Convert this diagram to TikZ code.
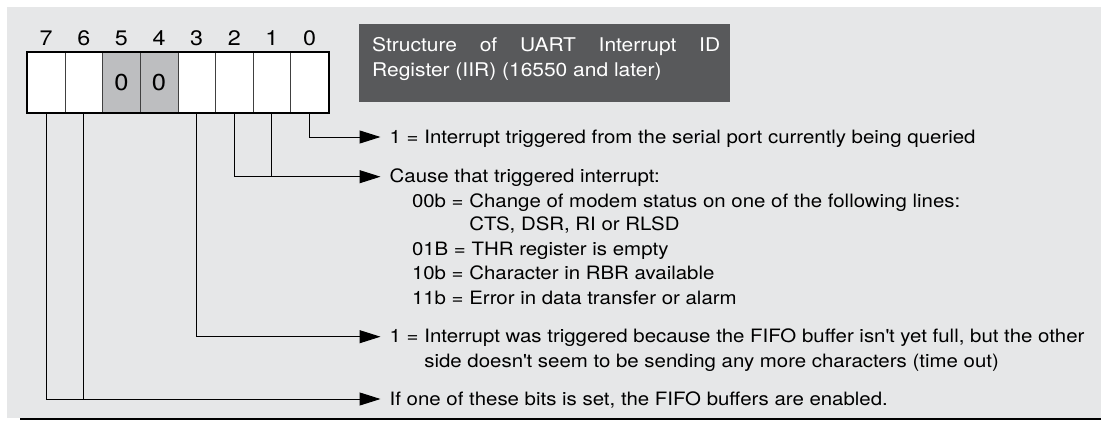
\documentclass[tikz,border=0pt]{standalone}
\usepackage{fontspec}
\setmainfont{TeX Gyre Heros}[FakeStretch=1.11]
\usetikzlibrary{arrows.meta}
\definecolor{bg}{HTML}{E6E7E8}
\definecolor{cellgray}{HTML}{BDBEC0}
\definecolor{titlebg}{HTML}{58595B}
\begin{document}
\begin{tikzpicture}[x=1pt,y=-1pt,
  cell/.style={draw=black!75, line width=0.8pt, minimum width=37.625pt, minimum height=60pt,
    inner sep=0pt, anchor=north west, font=\fontsize{23}{26}\selectfont},
  bitnum/.style={anchor=base, inner sep=0pt, font=\fontsize{21}{24}\selectfont},
  desc/.style={anchor=base west, inner sep=0pt, font=\fontsize{18.4}{21}\selectfont},
  titletext/.style={anchor=base west, inner sep=0pt, text=white, font=\fontsize{18.9}{22}\selectfont},
  wire/.style={line width=1pt},
  conn/.style={wire, -{Triangle[length=21pt,width=13pt]}}]

\useasboundingbox (0,0) rectangle (1101,421);
\fill[bg] (7,7) rectangle (1101,418);
\draw[line width=2pt] (20,419) -- (1101,419);

% register cells
\node[cell, fill=white]    (c7) at (27,52) {};
\node[cell, fill=white]    (c6) at (64.625,52) {};
\node[cell, fill=cellgray] (c5) at (102.25,52) {0};
\node[cell, fill=cellgray] (c4) at (139.875,52) {0};
\node[cell, fill=white]    (c3) at (177.5,52) {};
\node[cell, fill=white]    (c2) at (215.125,52) {};
\node[cell, fill=white]    (c1) at (252.75,52) {};
\node[cell, fill=white]    (c0) at (290.375,52) {};
\draw[line width=1.5pt] (c7.north west) rectangle (c0.south east);

% bit numbers
\node[bitnum] (n7) at (c7.north |- 0,45) {7};
\node[bitnum] (n6) at (c6.north |- 0,45) {6};
\node[bitnum] (n5) at (c5.north |- 0,45) {5};
\node[bitnum] (n4) at (c4.north |- 0,45) {4};
\node[bitnum] (n3) at (c3.north |- 0,45) {3};
\node[bitnum] (n2) at (c2.north |- 0,45) {2};
\node[bitnum] (n1) at (c1.north |- 0,45) {1};
\node[bitnum] (n0) at (c0.north |- 0,45) {0};

% title box
\node[fill=titlebg, minimum width=371pt, minimum height=78pt, anchor=north west, inner sep=0pt] (title) at (359,24) {};
\node[titletext] (tl1) at (372,51) {\makebox[348pt][s]{Structure of UART Interrupt ID}};
\node[titletext] (tl2) at (372,76) {Register (IIR) (16550 and later)};

% descriptions
\node[desc] (t0) at (389.5,143.3) {1 = Interrupt triggered from the serial port currently being queried};
\node[desc] (t1) at (389.5,182.5) {Cause that triggered interrupt:};
\node[desc] (t1a) at (411.8,207) {00b = Change of modem status on one of the following lines:};
\node[desc] (t1b) at (411.8,230.5) {\hphantom{00b = }CTS, DSR, RI or RLSD};
\node[desc] (t1c) at (411.8,255.2) {01B = THR register is empty};
\node[desc] (t1d) at (411.8,279.8) {10b = Character in RBR available};
\node[desc] (t1e) at (411.8,304.3) {11b = Error in data transfer or alarm};
\node[desc] (t3) at (389.5,342.7) {1 = Interrupt was triggered because the FIFO buffer isn\textquotesingle t yet full, but the other};
\node[desc] (t3b) at (389.5,367.7) {\hphantom{1 = }side doesn\textquotesingle t seem to be sending any more characters (time out)};
\node[desc] (t7) at (389.5,405) {If one of these bits is set, the FIFO buffers are enabled.};

% arrow tips
\coordinate (a0) at (380.5,137);
\coordinate (a1) at (380.5,176.7);
\coordinate (a3) at (380.5,336.7);
\coordinate (a7) at (380.5,399);

% connectors
\draw[conn] (c0.south) |- (a0);
\draw[conn] (c2.south) |- (a1);
\draw[wire] (c1.south) -- (c1.south |- a1);
\draw[conn] (c3.south) |- (a3);
\draw[conn] (c7.south) |- (a7);
\draw[wire] (c6.south) -- (c6.south |- a7);
\end{tikzpicture}
\end{document}
